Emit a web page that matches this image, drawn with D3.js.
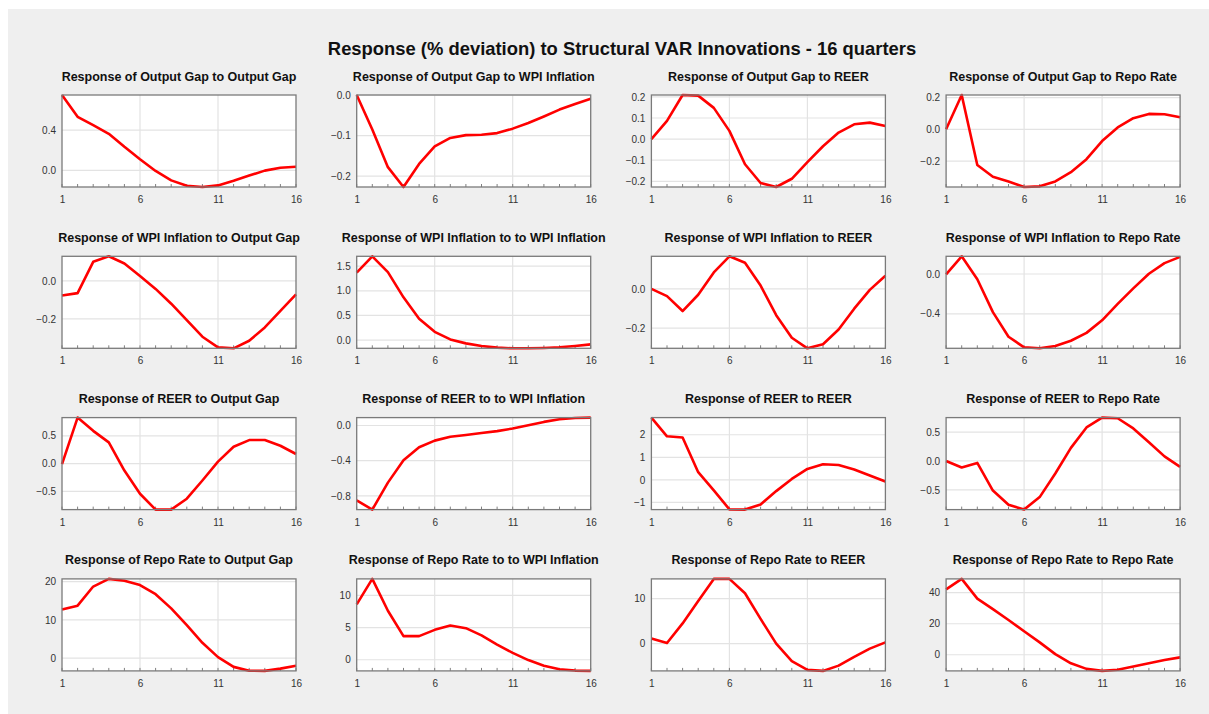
<!DOCTYPE html>
<html>
<head>
<meta charset="utf-8">
<script src="https://cdn.jsdelivr.net/npm/d3@7"></script>
<style>
    body { margin: 0; background: #fff; }
    svg { display: block; font-family: "Liberation Sans", Arial, sans-serif; }
</style>
</head>
<body>
<div id="chart"></div>
<script>
// horizon (quarters)
const periods = d3.range(1, 17);

const panelTitles = [
    "Response of Output Gap to Output Gap", "Response of Output Gap to WPI Inflation",
    "Response of Output Gap to REER", "Response of Output Gap to Repo Rate",
    "Response of WPI Inflation to Output Gap", "Response of WPI Inflation to to WPI Inflation",
    "Response of WPI Inflation to REER", "Response of WPI Inflation to Repo Rate",
    "Response of REER to Output Gap", "Response of REER to to WPI Inflation",
    "Response of REER to REER", "Response of REER to Repo Rate",
    "Response of Repo Rate to Output Gap", "Response of Repo Rate to to WPI Inflation",
    "Response of Repo Rate to REER", "Response of Repo Rate to Repo Rate"
];

// impulse responses
const gapToGap = [0.75, 0.533, 0.449, 0.364, 0.234, 0.11, -0.006, -0.10, -0.153, -0.166, -0.15, -0.104, -0.052, -0.003, 0.026, 0.036];
const gapToWpi = [0.0, -0.085, -0.178, -0.227, -0.170, -0.127, -0.106, -0.099, -0.098, -0.094, -0.083, -0.069, -0.053, -0.036, -0.022, -0.009];
const gapToReer = [0.0, 0.086, 0.209, 0.206, 0.148, 0.039, -0.119, -0.208, -0.227, -0.188, -0.109, -0.034, 0.031, 0.070, 0.078, 0.0625];
const gapToRepo = [0.0, 0.216, -0.225, -0.299, -0.328, -0.363, -0.359, -0.328, -0.270, -0.188, -0.074, 0.012, 0.070, 0.097, 0.095, 0.076];

const wpiToGap = [-0.077, -0.064, 0.101, 0.130, 0.092, 0.026, -0.042, -0.120, -0.207, -0.294, -0.350, -0.355, -0.315, -0.245, -0.158, -0.071];
const wpiToWpi = [1.367, 1.70, 1.38, 0.867, 0.433, 0.167, 0.013, -0.067, -0.12, -0.153, -0.167, -0.167, -0.16, -0.147, -0.12, -0.087];
const wpiToReer = [0.0, -0.037, -0.113, -0.030, 0.084, 0.166, 0.133, 0.017, -0.134, -0.249, -0.303, -0.282, -0.207, -0.101, -0.005, 0.067];
const wpiToRepo = [-0.003, 0.178, -0.053, -0.383, -0.631, -0.737, -0.747, -0.724, -0.671, -0.592, -0.466, -0.301, -0.145, 0.003, 0.109, 0.172];

const reerToGap = [-0.01, 0.827, 0.589, 0.381, -0.125, -0.542, -0.827, -0.827, -0.631, -0.304, 0.036, 0.304, 0.423, 0.423, 0.321, 0.173];
const reerToWpi = [-0.852, -0.957, -0.650, -0.396, -0.247, -0.172, -0.127, -0.108, -0.086, -0.064, -0.034, 0.004, 0.041, 0.071, 0.086, 0.090];
const reerToReer = [2.76, 1.93, 1.88, 0.34, -0.47, -1.31, -1.32, -1.09, -0.50, 0.04, 0.485, 0.69, 0.66, 0.46, 0.19, -0.07];
const reerToRepo = [0.0, -0.114, -0.034, -0.511, -0.756, -0.841, -0.625, -0.216, 0.227, 0.580, 0.75, 0.739, 0.563, 0.324, 0.08, -0.102];

const repoToGap = [12.7, 13.7, 18.7, 20.7, 20.2, 19.1, 16.7, 13.0, 8.6, 4.0, 0.26, -2.3, -3.3, -3.35, -2.75, -2.0];
const repoToWpi = [8.6, 12.55, 7.6, 3.67, 3.67, 4.64, 5.31, 4.9, 3.78, 2.35, 1.07, -0.05, -0.92, -1.48, -1.68, -1.73];
const repoToReer = [1.17, 0.15, 4.5, 9.5, 14.4, 14.4, 11.2, 5.5, 0.0, -3.87, -5.84, -6.06, -4.89, -2.92, -1.1, 0.29];
const repoToRepo = [42.1, 48.9, 36.2, 29.4, 22.4, 15.2, 8.0, 0.42, -5.5, -9.1, -10.4, -9.7, -7.6, -5.5, -3.4, -1.7];

const series = [
    gapToGap, gapToWpi, gapToReer, gapToRepo,
    wpiToGap, wpiToWpi, wpiToReer, wpiToRepo,
    reerToGap, reerToWpi, reerToReer, reerToRepo,
    repoToGap, repoToWpi, repoToReer, repoToRepo
];

// y tick values per panel
const yTicks = [
    [0.0, 0.4], [-0.2, -0.1, 0.0], [-0.2, -0.1, 0.0, 0.1, 0.2], [-0.2, 0.0, 0.2],
    [-0.2, 0.0], [0.0, 0.5, 1.0, 1.5], [-0.2, 0.0], [-0.4, 0.0],
    [-0.5, 0.0, 0.5], [-0.8, -0.4, 0.0], [-1, 0, 1, 2], [-0.5, 0.0, 0.5],
    [0, 10, 20], [0, 5, 10], [0, 10], [0, 20, 40]
];
const yTickFormats = [
    ".1f", ".1f", ".1f", ".1f",
    ".1f", ".1f", ".1f", ".1f",
    ".1f", ".1f", "d", ".1f",
    "d", "d", "d", "d"
];
const xTicks = [1, 6, 11, 16];

const chartTitle = "Response (% deviation) to Structural VAR Innovations - 16 quarters";

class IrfPanel {
    constructor(parent, index) {
        this.parent = parent;
        this.index = index;
        this.initVis();
    }

    initVis() {
        const vis = this;
        const col = vis.index % 4;
        const row = Math.floor(vis.index / 4);

        vis.width = 234;
        vis.height = 92;
        vis.left = 62 + col * 294.7;
        vis.top = 95 + row * 161.3;

        vis.g = vis.parent.append("g")
            .attr("transform", `translate(${vis.left},${vis.top})`);

        vis.values = series[vis.index];

        vis.x = d3.scaleLinear()
            .domain([1, 16])
            .range([0, vis.width]);

        vis.y = d3.scaleLinear()
            .domain(d3.extent(vis.values))
            .range([vis.height, 0]);

        // plot background
        vis.g.append("rect")
            .attr("width", vis.width)
            .attr("height", vis.height)
            .attr("fill", "#fff");

        // horizontal grid
        vis.g.append("g")
            .selectAll("line")
            .data(yTicks[vis.index])
            .enter().append("line")
            .attr("x1", 0)
            .attr("x2", vis.width)
            .attr("y1", d => vis.y(d))
            .attr("y2", d => vis.y(d))
            .attr("stroke", "#e3e3e3")
            .attr("stroke-width", 1.2);

        // vertical grid
        vis.g.append("g")
            .selectAll("line")
            .data([6, 11])
            .enter().append("line")
            .attr("x1", d => vis.x(d))
            .attr("x2", d => vis.x(d))
            .attr("y1", 0)
            .attr("y2", vis.height)
            .attr("stroke", "#e3e3e3")
            .attr("stroke-width", 1.2);

        // minor ticks along the bottom, one per quarter
        vis.g.append("g")
            .selectAll("line")
            .data(periods)
            .enter().append("line")
            .attr("x1", d => vis.x(d))
            .attr("x2", d => vis.x(d))
            .attr("y1", vis.height)
            .attr("y2", vis.height - 3)
            .attr("stroke", "#808080")
            .attr("stroke-width", 1);

        // response line
        const line = d3.line()
            .x((d, i) => vis.x(periods[i]))
            .y(d => vis.y(d));

        vis.g.append("path")
            .datum(vis.values)
            .attr("d", line)
            .attr("fill", "none")
            .attr("stroke", "#ff0000")
            .attr("stroke-width", 2.6)
            .attr("stroke-linejoin", "round");

        // frame
        vis.g.append("rect")
            .attr("width", vis.width)
            .attr("height", vis.height)
            .attr("fill", "none")
            .attr("stroke", "#7a7a7a")
            .attr("stroke-width", 1.3);

        // x axis labels
        const xAxis = d3.axisBottom(vis.x)
            .tickValues(xTicks)
            .tickSize(0)
            .tickPadding(9)
            .tickFormat(d3.format("d"));

        vis.g.append("g")
            .attr("transform", `translate(0,${vis.height})`)
            .call(xAxis)
            .call(g => g.select(".domain").remove())
            .selectAll("text")
            .style("font-size", "10px")
            .style("fill", "#333");

        // y axis labels
        const yAxis = d3.axisLeft(vis.y)
            .tickValues(yTicks[vis.index])
            .tickSize(0)
            .tickPadding(6)
            .tickFormat(d3.format(yTickFormats[vis.index]));

        vis.g.append("g")
            .call(yAxis)
            .call(g => g.select(".domain").remove())
            .selectAll("text")
            .style("font-size", "10px")
            .style("fill", "#333");

        // panel title
        vis.g.append("text")
            .attr("x", vis.width / 2)
            .attr("y", -14.5)
            .attr("text-anchor", "middle")
            .style("font-size", "12.5px")
            .style("font-weight", "bold")
            .style("fill", "#111")
            .text(panelTitles[vis.index]);
    }
}

const svg = d3.select("#chart").append("svg")
    .attr("width", 1209)
    .attr("height", 714);

svg.append("rect")
    .attr("x", 8)
    .attr("y", 9)
    .attr("width", 1201)
    .attr("height", 705)
    .attr("fill", "#efefef");

svg.append("text")
    .attr("x", 622)
    .attr("y", 55)
    .attr("text-anchor", "middle")
    .style("font-size", "18.4px")
    .style("font-weight", "bold")
    .style("fill", "#111")
    .text(chartTitle);

const panels = series.map((s, i) => new IrfPanel(svg, i));
</script>
</body>
</html>
